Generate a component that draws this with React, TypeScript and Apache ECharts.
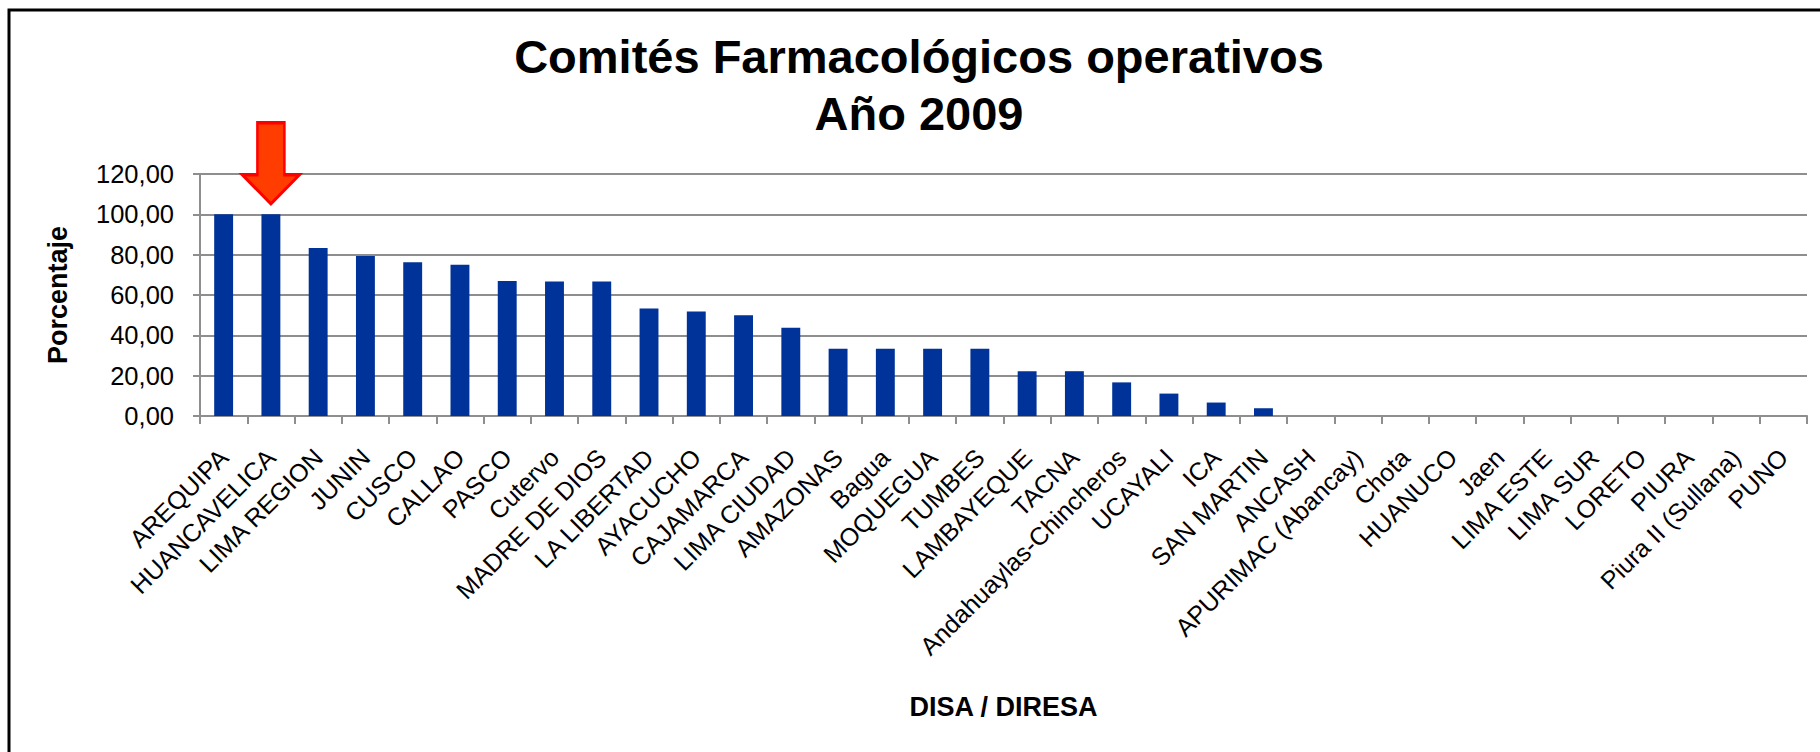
import React, { useEffect, useRef } from "react";
import * as echarts from "echarts";

const categories = [
  "AREQUIPA", "HUANCAVELICA", "LIMA REGION", "JUNIN", "CUSCO", "CALLAO", "PASCO",
  "Cutervo", "MADRE DE DIOS", "LA LIBERTAD", "AYACUCHO", "CAJAMARCA", "LIMA CIUDAD",
  "AMAZONAS", "Bagua", "MOQUEGUA", "TUMBES", "LAMBAYEQUE", "TACNA",
  "Andahuaylas-Chincheros", "UCAYALI", "ICA", "SAN MARTIN", "ANCASH",
  "APURIMAC (Abancay)", "Chota", "HUANUCO", "Jaen", "LIMA ESTE", "LIMA SUR",
  "LORETO", "PIURA", "Piura II (Sullana)", "PUNO",
];

const values = [
  100, 100, 83.33, 79.31, 76.19, 75.0, 66.92, 66.67, 66.67, 53.33, 51.85, 50.0,
  43.75, 33.33, 33.33, 33.33, 33.33, 22.22, 22.22, 16.67, 11.11, 6.67, 3.85,
  0, 0, 0, 0, 0, 0, 0, 0, 0, 0, 0,
];

const highlighted = "HUANCAVELICA";
const titleLines = ["Comités Farmacológicos operativos", "Año 2009"];
const yAxisTitle = "Porcentaje";
const xAxisTitle = "DISA / DIRESA";

const FONT = "'Liberation Sans', Arial, sans-serif";
const GRID_COLOR = "#8e8e8e";
const ARROW_PATH = "path://M15,0 L42,0 L42,52 L57,52 L28.5,81 L0,52 L15,52 Z";

export default function App() {
  const ref = useRef<HTMLDivElement>(null);

  useEffect(() => {
    if (!ref.current) return;
    const chart = echarts.init(ref.current, null, { renderer: "svg" });
    chart.setOption({
      animation: false,
      backgroundColor: "#ffffff",
      textStyle: { fontFamily: FONT },
      graphic: [
        {
          type: "rect",
          shape: { x: 9, y: 10, width: 2000, height: 1000 },
          style: { fill: "none", stroke: "#000000", lineWidth: 3 },
          silent: true,
        },
        {
          type: "text",
          x: 919,
          y: 80,
          style: {
            text: titleLines[0],
            font: `bold 47px ${FONT}`,
            fill: "#000000",
            textAlign: "center",
            textVerticalAlign: "bottom",
          },
        },
        {
          type: "text",
          x: 919,
          y: 137,
          style: {
            text: titleLines[1],
            font: `bold 47px ${FONT}`,
            fill: "#000000",
            textAlign: "center",
            textVerticalAlign: "bottom",
          },
        },
      ],
      grid: { left: 200, right: 13, top: 174, bottom: 336, containLabel: false },
      xAxis: {
        type: "category",
        data: categories,
        name: xAxisTitle,
        nameLocation: "middle",
        nameGap: 277,
        nameTextStyle: { fontSize: 27, fontWeight: "bold", color: "#000", fontFamily: FONT },
        axisLine: { show: true, lineStyle: { color: GRID_COLOR, width: 2 } },
        axisTick: { show: true, length: 8, alignWithLabel: false, lineStyle: { color: GRID_COLOR, width: 2 } },
        axisLabel: {
          interval: 0,
          rotate: 45,
          margin: 37,
          fontSize: 25,
          color: "#000",
          fontFamily: FONT,
        },
        splitLine: { show: false },
      },
      yAxis: {
        type: "value",
        min: 0,
        max: 120,
        interval: 20,
        name: yAxisTitle,
        nameLocation: "middle",
        nameRotate: 90,
        nameGap: 129,
        nameTextStyle: { fontSize: 27, fontWeight: "bold", color: "#000", fontFamily: FONT },
        axisLine: { show: true, lineStyle: { color: GRID_COLOR, width: 2 } },
        axisTick: { show: true, length: 7, inside: false, lineStyle: { color: GRID_COLOR, width: 2 } },
        axisLabel: {
          margin: 26,
          fontSize: 25.5,
          color: "#000",
          fontFamily: FONT,
          formatter: (v: number) => v.toFixed(2).replace(".", ","),
        },
        splitLine: { show: true, lineStyle: { color: GRID_COLOR, width: 2 } },
      },
      series: [
        {
          type: "bar",
          data: values,
          barWidth: "40%",
          itemStyle: { color: "#003399" },
          markPoint: {
            silent: true,
            symbol: ARROW_PATH,
            symbolSize: [57, 81],
            symbolKeepAspect: false,
            symbolOffset: [0, -51],
            label: { show: false },
            itemStyle: { color: "#FF3D00", borderColor: "#FF0000", borderWidth: 3 },
            data: [{ coord: [highlighted, 100] }],
          },
        },
      ],
    });
    return () => chart.dispose();
  }, []);

  return (
    <div
      ref={ref}
      style={{ position: "absolute", left: 0, top: 0, width: 1820, height: 752 }}
    />
  );
}
